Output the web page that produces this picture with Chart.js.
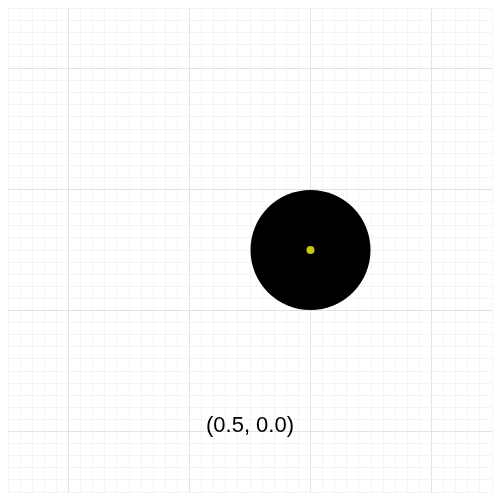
<!DOCTYPE html><html><head><script src="https://cdn.jsdelivr.net/npm/chart.js"></script>
<style>body{margin:0;background:#fff}#w{width:500px;height:500px}</style></head><body><div id="w"><canvas id="c"></canvas></div>
<script>
const circleCenter=[{x:0.5,y:0.0}];
const labelText="(0.5, 0.0)";
const labelPos={x:0,y:-1.45};
function gc(ctx){const v=Math.round(ctx.tick.value*10);if(Math.abs(v%10)===5)return'#e2e2e2';return'#f4f4f4';}
const textPlugin={id:'t',afterDatasetsDraw(ch){const c=ch.ctx;const px=ch.scales.x.getPixelForValue(labelPos.x),py=ch.scales.y.getPixelForValue(labelPos.y);c.save();c.fillStyle='#000';c.font='22px "Liberation Sans",Arial,sans-serif';c.textAlign='center';c.textBaseline='middle';c.fillText(labelText,px,py);c.restore();}};
new Chart(document.getElementById('c'),{type:'scatter',data:{datasets:[
{data:circleCenter,pointRadius:4,pointHoverRadius:4,backgroundColor:'#c8c814',borderWidth:0,clip:false},
{data:circleCenter,pointRadius:60,pointHoverRadius:60,backgroundColor:'#000',borderWidth:0,clip:false}
]},options:{responsive:true,maintainAspectRatio:false,animation:false,layout:{padding:8,autoPadding:false},
plugins:{legend:{display:false},tooltip:{enabled:false}},
scales:{x:{type:'linear',min:-2,max:2,ticks:{display:false,stepSize:0.1},grid:{color:gc,drawTicks:false},border:{display:false}},
y:{type:'linear',min:-2,max:2,ticks:{display:false,stepSize:0.1},grid:{color:gc,drawTicks:false},border:{display:false}}}},plugins:[textPlugin]});
</script></body></html>
